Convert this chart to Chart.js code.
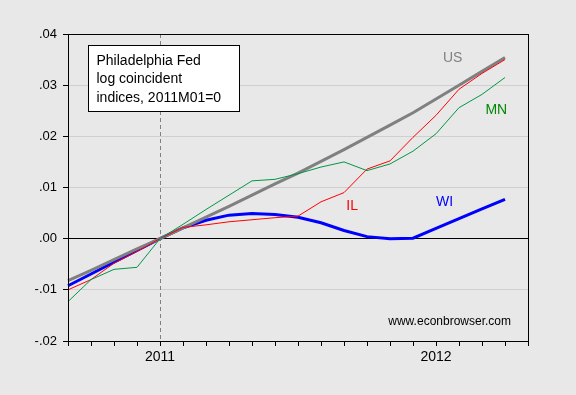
<!DOCTYPE html>
<html>
<head>
<meta charset="utf-8">
<script src="https://cdn.jsdelivr.net/npm/chart.js@4.4.1/dist/chart.umd.min.js"></script>
<style>
  html, body { margin: 0; padding: 0; background: #e8e8e8; }
  #wrap { width: 576px; height: 395px; }
</style>
</head>
<body>
<div id="wrap"><canvas id="coincChart" width="576" height="395"></canvas></div>
<script>
// monthly categories, 2010M09 .. 2012M05 (last one is only the axis end)
const months = ['2010M09', '2010M10', '2010M11', '2010M12',
                '2011M01', '2011M02', '2011M03', '2011M04', '2011M05', '2011M06',
                '2011M07', '2011M08', '2011M09', '2011M10', '2011M11', '2011M12',
                '2012M01', '2012M02', '2012M03', '2012M04', '2012M05'];

// log coincident indices, 2011M01 = 0
const us = [-0.0082, -0.0062, -0.0041, -0.0020, 0.0000, 0.0021, 0.0042, 0.0063, 0.0085, 0.0107,
            0.0128, 0.0151, 0.0174, 0.0198, 0.0222, 0.0246, 0.0273, 0.0300, 0.0327, 0.0354];
const wi = [-0.0092, -0.0069, -0.0046, -0.0023, 0.0000, 0.0021, 0.0036, 0.0046, 0.0049, 0.0047,
            0.0042, 0.0031, 0.0016, 0.0004, 0.0000, 0.0001, 0.0020, 0.0039, 0.0058, 0.0077];
const il = [-0.0100, -0.0080, -0.0048, -0.0025, 0.0000, 0.0022, 0.0027, 0.0033, 0.0037, 0.0041,
            0.0044, 0.0072, 0.0090, 0.0136, 0.0152, 0.0198, 0.0241, 0.0292, 0.0323, 0.0350];
const mn = [-0.0123, -0.0080, -0.0060, -0.0056, 0.0000, 0.0028, 0.0057, 0.0085, 0.0113, 0.0116,
            0.0127, 0.0140, 0.0150, 0.0133, 0.0146, 0.0171, 0.0205, 0.0256, 0.0282, 0.0315];

const yTicks = [-0.02, -0.01, 0, 0.01, 0.02, 0.03, 0.04];
const yearTicks = { '2011M01': '2011', '2012M01': '2012' };

const GRAY = 'rgb(128,128,128)';
const BLUE = 'rgb(0,0,255)';
const RED = 'rgb(255,0,0)';
const GREEN = 'rgb(0,150,70)';

function fmtY(v) {
  if (Math.abs(v) < 1e-9) return '.00';
  return (v < 0 ? '-' : '') + Math.abs(v).toFixed(2).slice(1);
}

// frame, 2011 marker line, text box and series labels
const decorations = {
  id: 'decorations',
  beforeDatasetsDraw(chart) {
    const ctx = chart.ctx, a = chart.chartArea;
    const x = chart.scales.x.getPixelForValue(months.indexOf('2011M01'));
    ctx.save();
    ctx.strokeStyle = GRAY;
    ctx.lineWidth = 1;
    ctx.setLineDash([4, 3]);
    ctx.beginPath();
    ctx.moveTo(Math.round(x) + 0.5, a.top);
    ctx.lineTo(Math.round(x) + 0.5, a.bottom);
    ctx.stroke();
    ctx.restore();
  },
  afterDatasetsDraw(chart) {
    const ctx = chart.ctx, a = chart.chartArea;
    const xs = chart.scales.x, ys = chart.scales.y;
    ctx.save();
    ctx.strokeStyle = '#000';
    ctx.lineWidth = 1;
    ctx.strokeRect(Math.round(a.left) + 0.5, Math.round(a.top) + 0.5,
                   Math.round(a.right - a.left), Math.round(a.bottom - a.top));

    // title box
    const bx = Math.round(a.left) + 20.5, by = Math.round(a.top) + 11.5;
    ctx.fillStyle = '#fff';
    ctx.fillRect(bx, by, 151, 66);
    ctx.strokeRect(bx, by, 151, 66);
    ctx.fillStyle = '#000';
    ctx.font = '14px "Liberation Sans", Arial, sans-serif';
    ctx.textAlign = 'left';
    ctx.textBaseline = 'alphabetic';
    ['Philadelphia Fed', 'log coincident', 'indices, 2011M01=0'].forEach((t, i) => {
      ctx.fillText(t, bx + 8, by + 19 + i * 18.5);
    });

    // series names
    const names = [
      { text: 'US', color: GRAY, at: 16.3, v: 0.0346 },
      { text: 'MN', color: 'rgb(0,135,0)', at: 18.15, v: 0.0244 },
      { text: 'IL', color: RED, at: 12.1, v: 0.0057 },
      { text: 'WI', color: BLUE, at: 16.0, v: 0.0064 }
    ];
    names.forEach(n => {
      ctx.fillStyle = n.color;
      ctx.fillText(n.text, xs.getPixelForValue(n.at), ys.getPixelForValue(n.v));
    });

    ctx.fillStyle = '#000';
    ctx.font = '12px "Liberation Sans", Arial, sans-serif';
    ctx.textAlign = 'right';
    ctx.fillText('www.econbrowser.com', a.right - 17, a.bottom - 16);
    ctx.restore();
  }
};

const coincChart = new Chart(document.getElementById('coincChart'), {
  type: 'line',
  data: {
    labels: months,
    datasets: [
      { label: 'MN', data: mn, borderColor: GREEN, borderWidth: 1, order: 1 },
      { label: 'IL', data: il, borderColor: RED, borderWidth: 1, order: 2 },
      { label: 'US', data: us, borderColor: GRAY, borderWidth: 3, order: 3 },
      { label: 'WI', data: wi, borderColor: BLUE, borderWidth: 3, order: 4 }
    ]
  },
  options: {
    responsive: false,
    devicePixelRatio: 1,
    animation: false,
    layout: { padding: { top: 34, right: 48, left: 0, bottom: 0 } },
    elements: { point: { radius: 0 }, line: { tension: 0 } },
    plugins: { legend: { display: false }, tooltip: { enabled: false } },
    scales: {
      x: {
        type: 'category',
        offset: false,
        afterFit: s => { s.height = 54; },
        grid: { drawOnChartArea: false, tickLength: 5, tickColor: '#000' },
        border: { display: false },
        ticks: {
          autoSkip: false,
          maxRotation: 0,
          padding: 3,
          color: '#000',
          font: { family: '"Liberation Sans", Arial, sans-serif', size: 14 },
          callback: (v, i) => yearTicks[months[i]] || ''
        }
      },
      y: {
        min: yTicks[0],
        max: yTicks[yTicks.length - 1],
        afterFit: s => { s.width = 68; },
        afterBuildTicks: s => { s.ticks = yTicks.map(v => ({ value: v })); },
        grid: {
          tickLength: 5,
          tickColor: '#000',
          color: c => {
            const v = c.tick ? c.tick.value : null;
            if (v === null) return 'rgba(0,0,0,0)';
            if (Math.abs(v) < 1e-9) return '#000';
            if (v === yTicks[0] || v === yTicks[yTicks.length - 1]) return 'rgba(0,0,0,0)';
            return '#cfcfcf';
          }
        },
        border: { display: true, color: '#000' },
        ticks: {
          padding: 6,
          color: '#000',
          font: { family: '"Liberation Sans", Arial, sans-serif', size: 13 },
          callback: v => fmtY(v)
        }
      }
    }
  },
  plugins: [decorations]
});
</script>
</body>
</html>
